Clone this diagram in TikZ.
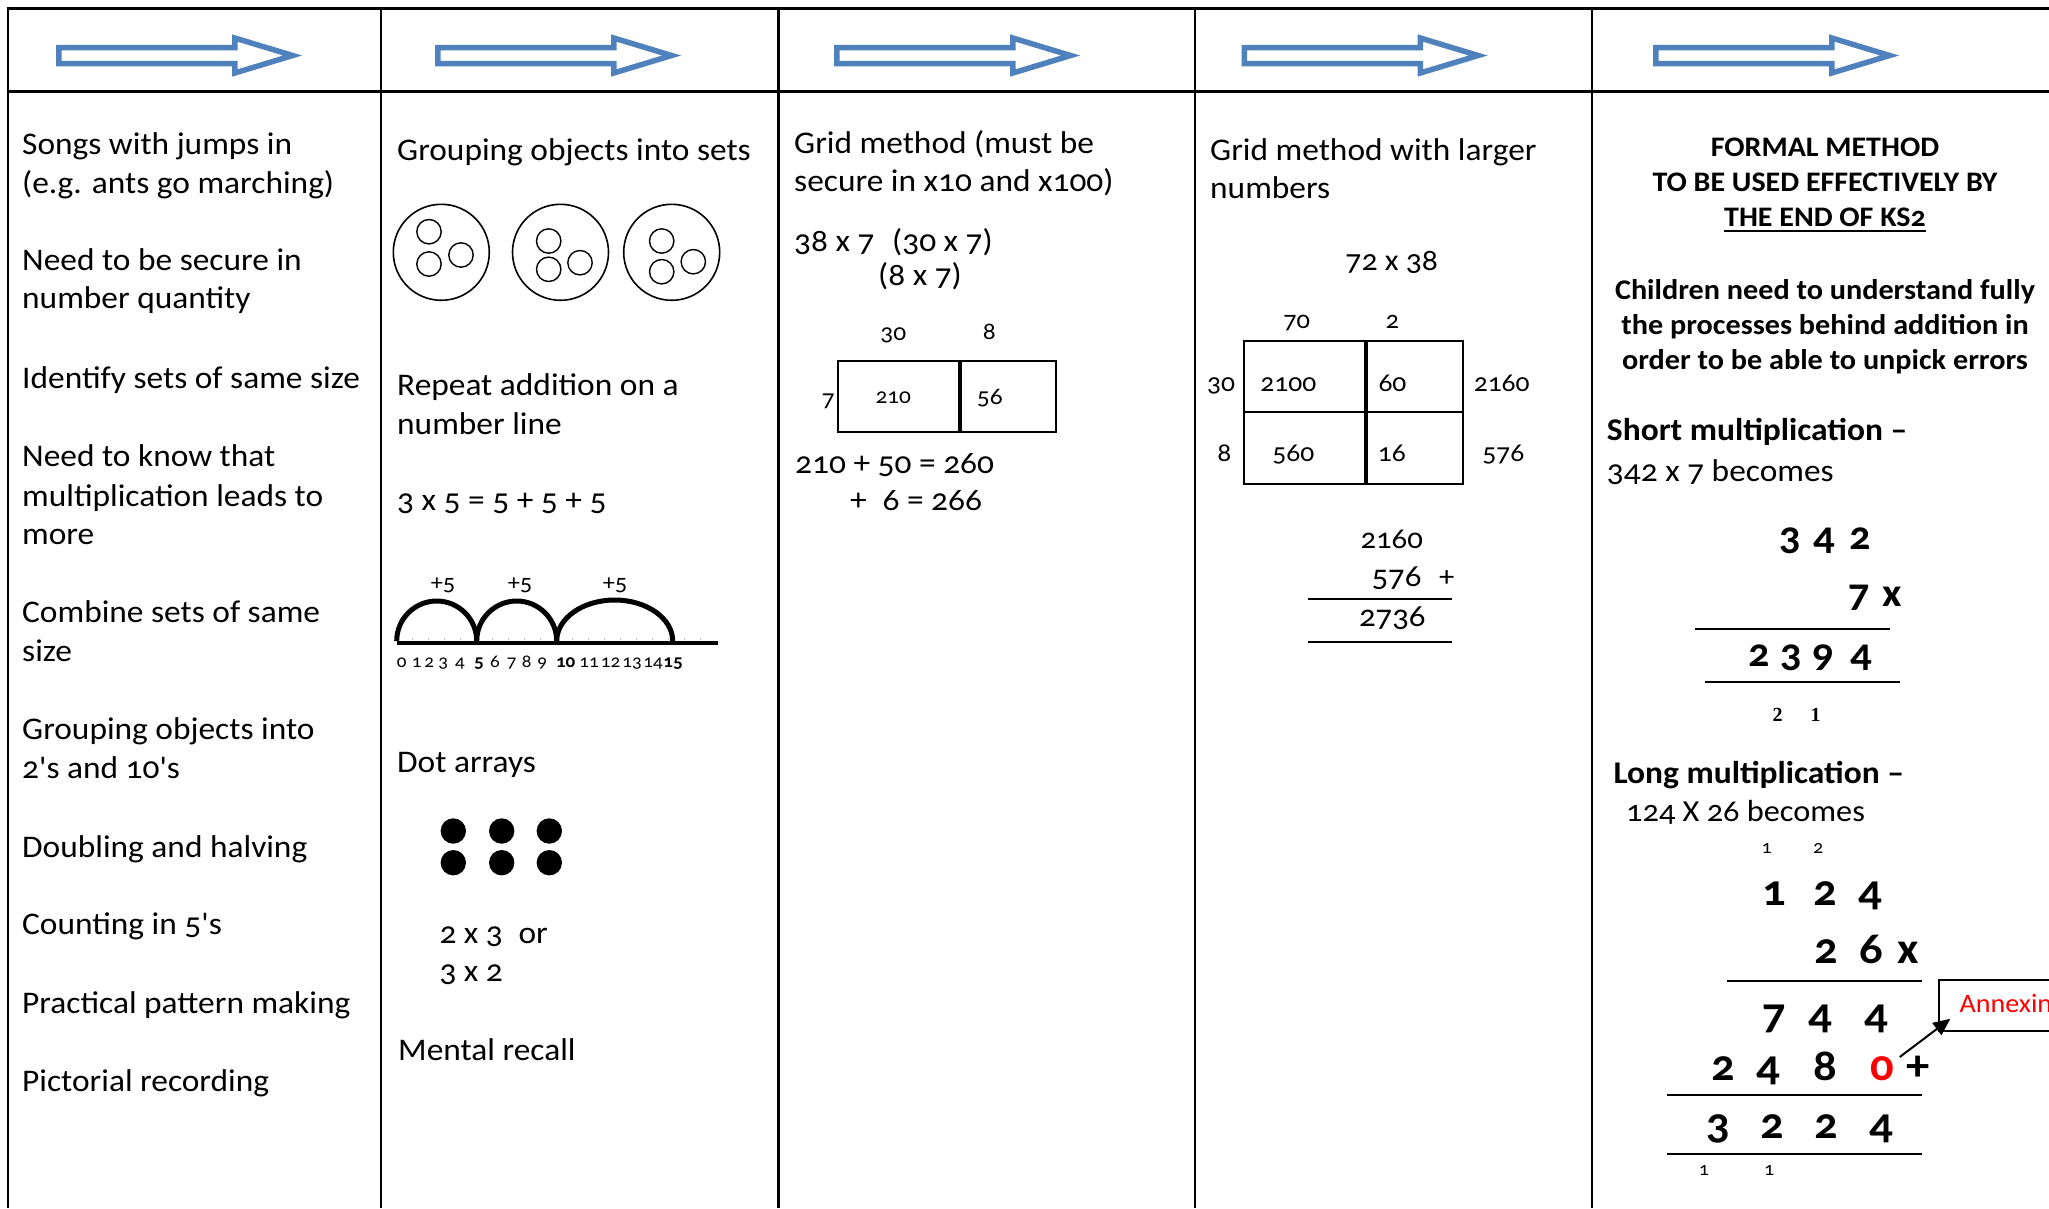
\documentclass[tikz,border=0pt]{standalone}
\usepackage{fontspec}
\setmainfont{Carlito}[Numbers=OldStyle, Ligatures=TeXOff, FakeStretch=1.06]
\newfontfamily\serifbold{Liberation Serif}[Numbers=Lining]
\usetikzlibrary{arrows.meta,calc}
\definecolor{arrowblue}{HTML}{4F81BD}
\definecolor{annexred}{HTML}{FF0000}
\tikzset{
  body/.style={anchor=base west, inner sep=0pt, font=\fontsize{31.5}{37}\selectfont},
  ctr/.style={anchor=base, inner sep=0pt},
  fsz/.style={font=\fontsize{#1}{#1}\selectfont},
  bfsz/.style={font=\fontsize{#1}{#1}\selectfont\bfseries},
  tblline/.style={line width=3pt, black},
  colline/.style={line width=2.5pt, black},
  cell/.style={draw, line width=2pt, inner sep=0pt, anchor=north west},
  divider/.style={line width=4pt},
  sumline/.style={line width=2pt},
  harrow/.pic={\draw[arrowblue, line width=5.5pt, fill=white, line join=miter]
      (2.75,-8) -- (178.75,-8) -- (178.75,-17.5) -- (236.6,0) -- (178.75,17.5)
      -- (178.75,8) -- (2.75,8) -- cycle;}
}
\begin{document}
\begin{tikzpicture}[x=1pt,y=-1pt]
\useasboundingbox (0,0) rectangle (2049,1208);
\clip (0,0) rectangle (2049,1208);
\fill[white] (0,0) rectangle (2049,1208);

% table lines
\draw[tblline] (6.5,8.5) -- (2049,8.5);
\draw[tblline] (6.5,91) -- (2049,91);
\foreach \xx in {8,381,778.5,1195,1592}
  \draw[colline] (\xx,8.5) -- (\xx,1208);

% header arrows
\foreach \xx in {56,435,834,1241.5,1653}
  \pic at (\xx,55.5) {harrow};

% ---------- column 1
\foreach \yy/\mytext [count=\i] in {
  154.3/Songs with jumps in, 193.6/{(e.g. ants go marching)},
  270/Need to be secure in, 308.5/number quantity,
  388.2/Identify sets of same size,
  466.8/Need to know that, 506/multiplication leads to, 544.5/more,
  622.5/Combine sets of same, 661.5/size,
  739.6/Grouping objects into, 778/2's and 10's,
  857.4/Doubling and halving,
  934/Counting in 5's,
  1013/Practical pattern making,
  1091.5/Pictorial recording}
  \node[body] (a\i) at (22,\yy) {\mytext};

% ---------- column 2
\node[body] (b1) at (397,160) {Grouping objects into sets};
\foreach \cx/\cy [count=\i] in {441.3/252.3, 560.5/252.3, 671.7/252.3}
  \draw[line width=1.6pt] (\cx,\cy) circle[radius=48pt];
\foreach \cx/\cy in {429/231.7, 429/264, 461/255,
                     548.7/241, 548.7/269.3, 580/262.7,
                     661.7/241, 661.7/271.7, 693.3/261.7}
  \draw[line width=1.4pt] (\cx,\cy) circle[radius=12.2pt];
\node[body] (b2) at (397,395) {Repeat addition on a};
\node[body] (b3) at (397,434) {number line};
\node[body] (b4) at (397,510) {3 x 5 = 5 + 5 + 5};
% number line
\draw[line width=4pt] (396.7,642.5) -- (718.3,642.5);
\foreach \i in {0,...,19}
  \draw[line width=0.8pt, black!25] (396.7+\i*16,638) -- (396.7+\i*16,640);
\draw[line width=5pt] (396.7,641) arc[start angle=180, end angle=0, x radius=40pt, y radius=40pt];
\draw[line width=5pt] (476.7,641) arc[start angle=180, end angle=0, x radius=40pt, y radius=40pt];
\draw[line width=5pt] (556.7,641) arc[start angle=180, end angle=0, x radius=58pt, y radius=41pt];
\foreach \xx [count=\i] in {443,520,615}
  \node[ctr, fsz=23] (p\i) at (\xx,590) {+5};
\foreach \xx/\d [count=\i] in {401.7/0, 416.7/1, 429.3/2, 443.3/3, 460/4,
    479/{\bfseries 5}, 495/6, 511.7/7, 526.7/8, 542.3/9, 565.7/{\bfseries 10},
    589/11, 610.5/12, 632/13, 653/14, 673/{\bfseries 15}}
  \node[ctr, fsz=18] (n\i) at (\xx,667) {\d};
\node[body] (b5) at (397,772) {Dot arrays};
\foreach \cx in {453.3,501.7,549.3}
  \foreach \cy in {831,862.7}
    \fill (\cx,\cy) circle[radius=12.7pt];
\node[body] (b6) at (439.3,943.3) {2 x 3\enspace or};
\node[body] (b7) at (439.3,981.7) {3 x 2};
\node[body] (b8) at (398,1060) {Mental recall};

% ---------- column 3
\node[body] (c1) at (794,153.3) {Grid method (must be};
\node[body] (c2) at (794,191.7) {secure in x10 and x100)};
\node[body] (c3) at (794,251.7) {38 x 7};
\node[body] (c4) at (892,251.7) {(30 x 7)};
\node[body] (c5) at (878,285) {(8 x 7)};
\node[cell, minimum width=121pt, minimum height=71pt] (g1) at (837.3,360) {};
\node[cell, minimum width=96.7pt, minimum height=71pt] (g2) at (958.3,360) {};
\draw[divider] (g1.north east) -- (g1.south east);
\node[ctr, fsz=24] (c6) at (893.3,340) {30};
\node[ctr, fsz=24] (c7) at (989.3,339) {8};
\node[anchor=base east, inner sep=0pt, fsz=24] (c8) at (835,406.7) {7};
\node[ctr, fsz=22] (c9) at (893.3,403.3) {210};
\node[anchor=base west, inner sep=0pt, fsz=24] (c10) at (976.7,404) {56};
\node[body] (c11) at (795,473.3) {210 + 50 = 260};
\node[body] (c12) at (850,510) {+\enspace 6 = 266};

% ---------- column 4
\node[body] (d1) at (1210,160) {Grid method with larger};
\node[body] (d2) at (1210,198.3) {numbers};
\node[ctr, fsz=30] (d3) at (1391.7,270) {72 x 38};
\node[ctr, fsz=25] (d4) at (1296.7,328.3) {70};
\node[ctr, fsz=25] (d5) at (1392.3,328.3) {2};
\node[cell, minimum width=121pt, minimum height=71pt] (h1) at (1243.3,340) {};
\node[cell, minimum width=97.4pt, minimum height=71pt] (h2) at (1364.3,340) {};
\node[cell, minimum width=121pt, minimum height=71.7pt] (h3) at (1243.3,411) {};
\node[cell, minimum width=97.4pt, minimum height=71.7pt] (h4) at (1364.3,411) {};
\draw[divider] (h1.north east) -- (h3.south east);
\node[ctr, fsz=26] (d6) at (1221,391.7) {30};
\node[ctr, fsz=26] (d7) at (1288.3,391.7) {2100};
\node[anchor=base west, inner sep=0pt, fsz=26] (d8) at (1378.3,391.7) {60};
\node[ctr, fsz=26] (d9) at (1501.7,391.7) {2160};
\node[ctr, fsz=26] (d10) at (1224.3,461.7) {8};
\node[ctr, fsz=26] (d11) at (1293.3,461.7) {560};
\node[anchor=base west, inner sep=0pt, fsz=26] (d12) at (1377.7,461.7) {16};
\node[ctr, fsz=26] (d13) at (1503.3,461.7) {576};
\node[ctr, fsz=29] (d14) at (1391.7,548.3) {2160};
\node[anchor=base east, inner sep=0pt, fsz=31] (d15) at (1421.7,586.7) {576};
\node[ctr, fsz=29] (d16) at (1446.7,586.7) {+};
\coordinate (s1a) at (1307.7,599.3);
\coordinate (s1b) at (1451.7,599.3);
\draw[sumline] (s1a) -- (s1b);
\node[ctr, fsz=31] (d17) at (1392.3,626.7) {2736};
\coordinate (s2a) at (1307.7,642.3);
\coordinate (s2b) at (1451.7,642.3);
\draw[sumline] (s2a) -- (s2b);

% ---------- column 5
\node[ctr, bfsz=28.3] (e1) at (1825,156) {FORMAL METHOD};
\node[ctr, bfsz=28.3] (e2) at (1825,191.2) {TO BE USED EFFECTIVELY BY};
\node[ctr, bfsz=28.3] (e3) at (1825,226.5) {THE END OF KS2};
\draw[line width=2pt] ($(e3.base west)+(0,4.5)$) -- ($(e3.base east)+(0,4.5)$);
\node[ctr, bfsz=28.5] (e4) at (1825,299) {Children need to understand fully};
\node[ctr, bfsz=28.5] (e5) at (1825,334.2) {the processes behind addition in};
\node[ctr, bfsz=28.5] (e6) at (1825,369.5) {order to be able to unpick errors};
\node[anchor=base west, inner sep=0pt, bfsz=31.6] (e7) at (1606.7,440) {Short multiplication –};
\node[body] (e8) at (1606.7,481.4) {342 x 7 becomes};
\foreach \xx/\d [count=\i] in {1790.7/3, 1824/4, 1860/2}
  \node[ctr, bfsz=40] (sa\i) at (\xx,549.8) {\d};
\foreach \xx/\d [count=\i] in {1859.2/7, 1892/x}
  \node[ctr, bfsz=40] (sb\i) at (\xx,606.6) {\d};
\draw[sumline] (1695,629.4) -- (1890,629.4);
\foreach \xx/\d [count=\i] in {1759.7/2, 1791.7/3, 1823.3/9, 1860.8/4}
  \node[ctr, bfsz=40] (sc\i) at (\xx,666) {\d};
\draw[sumline] (1705,681.7) -- (1900,681.7);
\foreach \xx/\d [count=\i] in {1777.7/2, 1815.7/1}
  \node[ctr, font=\fontsize{20}{20}\selectfont\serifbold\bfseries] (sd\i) at (\xx,721.9) {\d};

\node[anchor=base west, inner sep=0pt, bfsz=31.6] (e9) at (1613.3,783.3) {Long multiplication –};
\node[anchor=base west, inner sep=0pt, fsz=30.5] (e10) at (1626,821.7) {124 X 26 becomes};
\foreach \xx/\d [count=\i] in {1766.7/1, 1818.3/2}
  \node[ctr, fsz=19] (la\i) at (\xx,853.3) {\d};
\foreach \xx/\d [count=\i] in {1774.3/1, 1825/2, 1870/4}
  \node[ctr, bfsz=44] (lb\i) at (\xx,905) {\d};
\foreach \xx/\d [count=\i] in {1826.7/2, 1871.7/6, 1908.3/x}
  \node[ctr, bfsz=44] (lc\i) at (\xx,963.3) {\d};
\draw[sumline] (1726.7,981) -- (1921.7,981);
\foreach \xx/\d [count=\i] in {1774.3/7, 1820/4, 1876/4}
  \node[ctr, bfsz=44] (ld\i) at (\xx,1028.3) {\d};
\foreach \xx/\d [count=\i] in {1723.3/2, 1768.3/4, 1825/8}
  \node[ctr, bfsz=44] (le\i) at (\xx,1080) {\d};
\node[ctr, bfsz=44, text=annexred] (zero) at (1882.7,1080) {0};
\node[ctr, bfsz=44] (plus) at (1918.3,1080) {+};
\draw[sumline] (1666.7,1095) -- (1921.7,1095);
\foreach \xx/\d [count=\i] in {1718.3/3, 1772.7/2, 1826.7/2, 1881.7/4}
  \node[ctr, bfsz=44] (lf\i) at (\xx,1138.3) {\d};
\draw[sumline] (1666.7,1154) -- (1921.7,1154);
\foreach \xx/\d [count=\i] in {1704/1, 1769.3/1}
  \node[ctr, fsz=19] (lg\i) at (\xx,1175) {\d};

\node[draw, line width=1.8pt, anchor=north west, minimum width=200pt, minimum height=50.7pt, inner sep=0pt] (annex) at (1938.3,979.3) {};
\node[anchor=base west, inner sep=0pt, fsz=26.5, text=annexred] (annextxt) at (1959.3,1012.5) {Annexing};
\draw[line width=2pt, -{Triangle[length=17pt,width=15pt]}] ($(zero.base east)+(5,-23)$) -- ($(annex.south west)+(12,-13)$);
\end{tikzpicture}
\end{document}
